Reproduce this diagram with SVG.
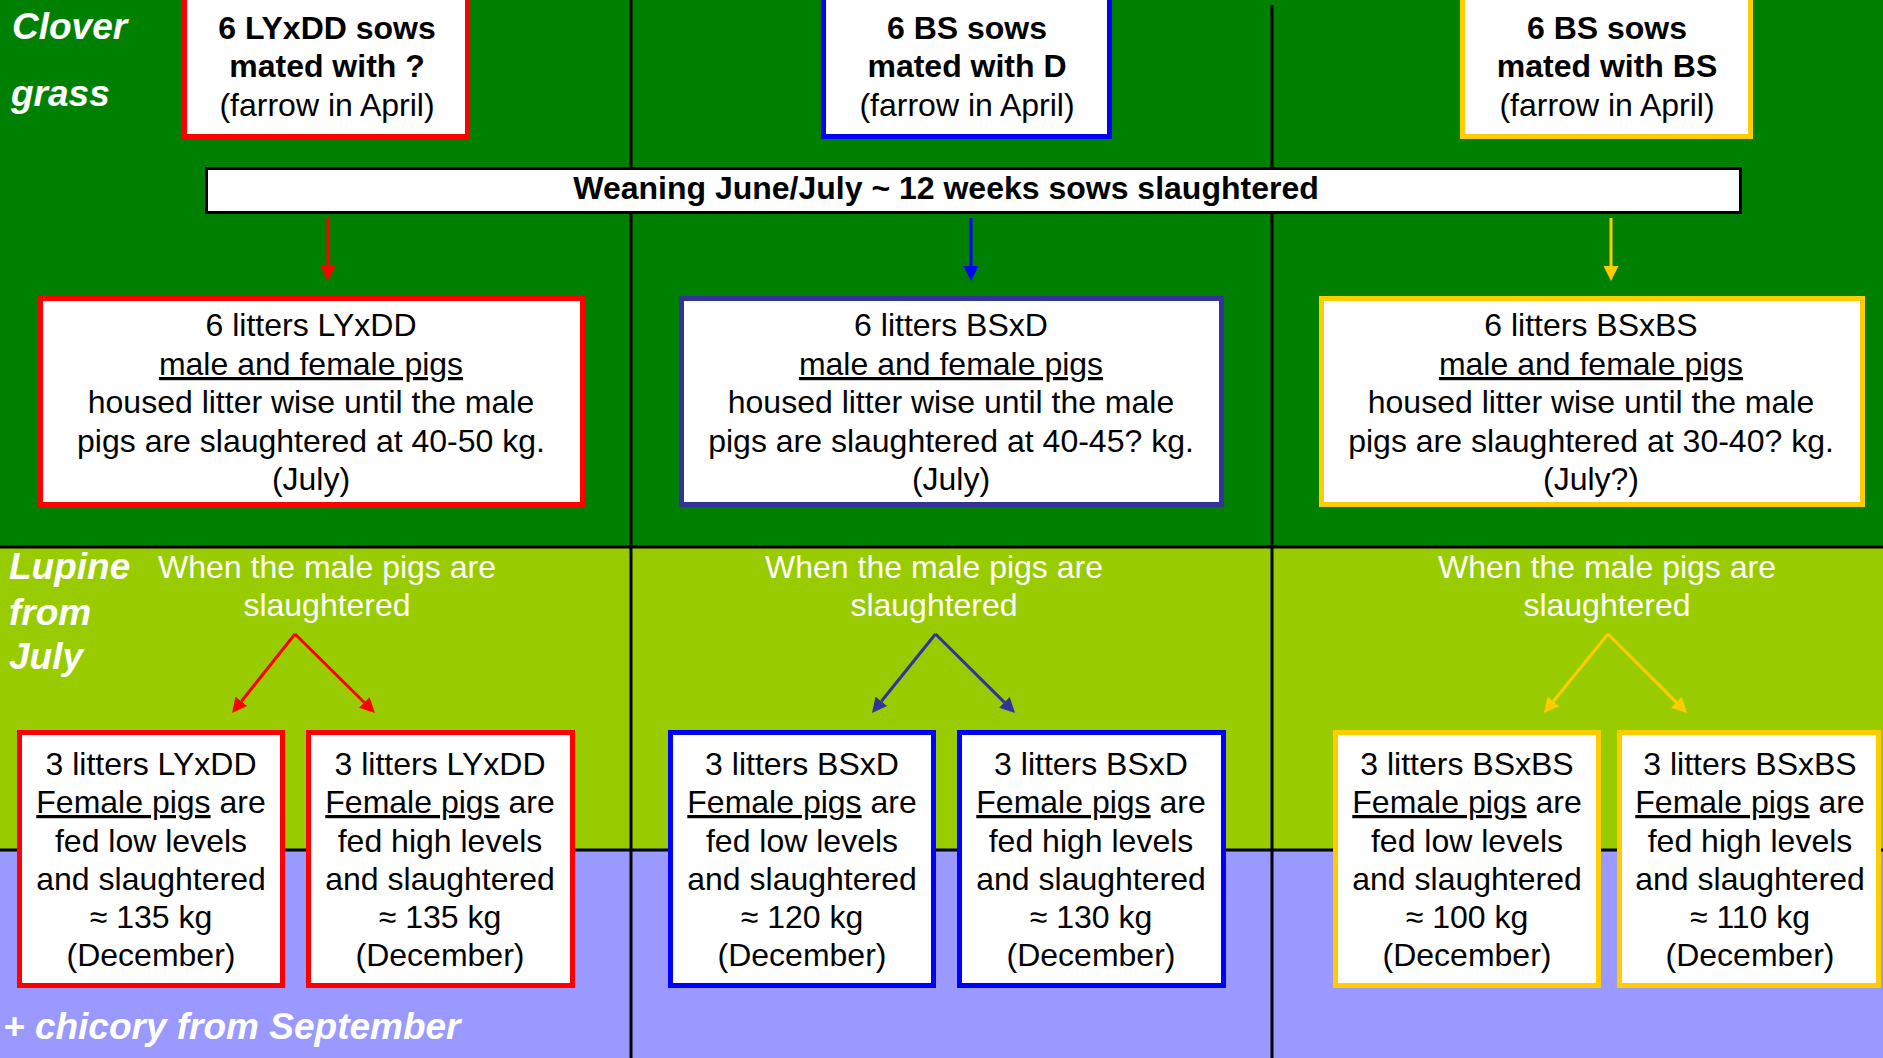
<svg xmlns="http://www.w3.org/2000/svg" width="1883" height="1058" viewBox="0 0 1883 1058">
<style>
.box{fill:#fff;stroke-width:5}
.r{stroke:#FF0000}.b{stroke:#0000FF}.n{stroke:#333399}.y{stroke:#FFCC00}
text{font-family:"Liberation Sans",Arial,sans-serif;font-size:32px;text-anchor:middle;fill:#000}
.bold{font-weight:bold}
.w{fill:#fff}
.lab{font-weight:bold;font-style:italic;font-size:37px;fill:#fff;text-anchor:start}
.u{text-decoration:underline}
.div{stroke:#000;stroke-width:3}
</style>
<defs>
<marker id="ar" markerUnits="userSpaceOnUse" markerWidth="16" markerHeight="16" refX="0" refY="8" orient="auto" viewBox="0 0 16 16"><path d="M0,0.5 L15,8 L0,15.5 z" fill="#FF0000"/></marker>
<marker id="ab" markerUnits="userSpaceOnUse" markerWidth="16" markerHeight="16" refX="0" refY="8" orient="auto" viewBox="0 0 16 16"><path d="M0,0.5 L15,8 L0,15.5 z" fill="#0000FF"/></marker>
<marker id="an" markerUnits="userSpaceOnUse" markerWidth="16" markerHeight="16" refX="0" refY="8" orient="auto" viewBox="0 0 16 16"><path d="M0,0.5 L15,8 L0,15.5 z" fill="#333399"/></marker>
<marker id="ay" markerUnits="userSpaceOnUse" markerWidth="16" markerHeight="16" refX="0" refY="8" orient="auto" viewBox="0 0 16 16"><path d="M0,0.5 L15,8 L0,15.5 z" fill="#FFCC00"/></marker>
</defs>

<g id="background">
<rect x="0" y="0" width="1883" height="548" fill="#008000"/>
<rect x="0" y="548" width="1883" height="302" fill="#99CC00"/>
<rect x="0" y="850" width="1883" height="208" fill="#9999FF"/>
<line class="div" x1="0" y1="547" x2="1883" y2="547"/>
<line class="div" x1="0" y1="850" x2="1883" y2="850"/>
<line class="div" x1="631" y1="0" x2="631" y2="1058"/>
<line class="div" x1="1272" y1="5" x2="1272" y2="1058"/>
</g>

<g id="labels">
<text class="lab" x="12" y="39">Clover</text>
<text class="lab" x="11" y="106">grass</text>
<text class="lab" x="9" y="579">Lupine</text>
<text class="lab" x="9" y="625">from</text>
<text class="lab" x="9" y="669">July</text>
<text class="lab" x="3" y="1039">+ chicory from September</text>
<text class="w" x="327" y="578">When the male pigs are</text>
<text class="w" x="327" y="616">slaughtered</text>
<text class="w" x="934" y="578">When the male pigs are</text>
<text class="w" x="934" y="616">slaughtered</text>
<text class="w" x="1607" y="578">When the male pigs are</text>
<text class="w" x="1607" y="616">slaughtered</text>
</g>

<g id="connectors" fill="none" stroke-width="3">
<line x1="328" y1="218" x2="328" y2="266" stroke="#FF0000" marker-end="url(#ar)"/>
<line x1="971" y1="218" x2="971" y2="266" stroke="#0000FF" marker-end="url(#ab)"/>
<line x1="1611" y1="218" x2="1611" y2="266" stroke="#FFCC00" marker-end="url(#ay)"/>
<line x1="295" y1="634" x2="241.4" y2="701.3" stroke="#FF0000" marker-end="url(#ar)"/>
<line x1="295" y1="634" x2="364.3" y2="702.5" stroke="#FF0000" marker-end="url(#ar)"/>
<line x1="935.5" y1="634" x2="881.4" y2="701.3" stroke="#333399" marker-end="url(#an)"/>
<line x1="935.5" y1="634" x2="1004.4" y2="702.4" stroke="#333399" marker-end="url(#an)"/>
<line x1="1608" y1="634" x2="1553.4" y2="701.3" stroke="#FFCC00" marker-end="url(#ay)"/>
<line x1="1608" y1="634" x2="1676.4" y2="702.4" stroke="#FFCC00" marker-end="url(#ay)"/>
</g>

<g id="sow-lyxdd">
<rect class="box r" x="184.5" y="-10" width="283" height="146.5"/>
<text class="bold" x="327" y="39">6 LYxDD sows</text>
<text class="bold" x="327" y="77">mated with ?</text>
<text x="327" y="116">(farrow in April)</text>
</g>
<g id="sow-bs-d">
<rect class="box b" x="823.5" y="-10" width="286" height="146.5"/>
<text class="bold" x="967" y="39">6 BS sows</text>
<text class="bold" x="967" y="77">mated with D</text>
<text x="967" y="116">(farrow in April)</text>
</g>
<g id="sow-bs-bs">
<rect class="box y" x="1462.5" y="-10" width="288" height="146.5"/>
<text class="bold" x="1607" y="39">6 BS sows</text>
<text class="bold" x="1607" y="77">mated with BS</text>
<text x="1607" y="116">(farrow in April)</text>
</g>

<g id="weaning">
<rect x="206.5" y="168.5" width="1534" height="44" fill="#fff" stroke="#000" stroke-width="3"/>
<text class="bold" x="946" y="199">Weaning June/July ~ 12 weeks sows slaughtered</text>
</g>

<g id="litters-lyxdd">
<rect class="box r" x="40.5" y="298.5" width="542" height="206"/>
<text x="311" y="336">6 litters LYxDD</text>
<text x="311" y="375" class="u">male and female pigs</text>
<text x="311" y="413">housed litter wise until the male</text>
<text x="311" y="452">pigs are slaughtered at 40-50 kg.</text>
<text x="311" y="490">(July)</text>
</g>
<g id="litters-bsxd">
<rect class="box n" x="681.5" y="298.5" width="540" height="206"/>
<text x="951" y="336">6 litters BSxD</text>
<text x="951" y="375" class="u">male and female pigs</text>
<text x="951" y="413">housed litter wise until the male</text>
<text x="951" y="452">pigs are slaughtered at 40-45? kg.</text>
<text x="951" y="490">(July)</text>
</g>
<g id="litters-bsxbs">
<rect class="box y" x="1321.5" y="298.5" width="541" height="206"/>
<text x="1591" y="336">6 litters BSxBS</text>
<text x="1591" y="375" class="u">male and female pigs</text>
<text x="1591" y="413">housed litter wise until the male</text>
<text x="1591" y="452">pigs are slaughtered at 30-40? kg.</text>
<text x="1591" y="490">(July?)</text>
</g>

<g id="lyxdd-low">
<rect class="box r" x="19.5" y="732.5" width="263" height="253"/>
<text x="151" y="775">3 litters LYxDD</text>
<text x="151" y="813"><tspan class="u">Female pigs</tspan> are</text>
<text x="151" y="852">fed low levels</text>
<text x="151" y="890">and slaughtered</text>
<text x="151" y="928">≈ 135 kg</text>
<text x="151" y="966">(December)</text>
</g>
<g id="lyxdd-high">
<rect class="box r" x="308.5" y="732.5" width="264" height="253"/>
<text x="440" y="775">3 litters LYxDD</text>
<text x="440" y="813"><tspan class="u">Female pigs</tspan> are</text>
<text x="440" y="852">fed high levels</text>
<text x="440" y="890">and slaughtered</text>
<text x="440" y="928">≈ 135 kg</text>
<text x="440" y="966">(December)</text>
</g>
<g id="bsxd-low">
<rect class="box b" x="670.5" y="732.5" width="263" height="253"/>
<text x="802" y="775">3 litters BSxD</text>
<text x="802" y="813"><tspan class="u">Female pigs</tspan> are</text>
<text x="802" y="852">fed low levels</text>
<text x="802" y="890">and slaughtered</text>
<text x="802" y="928">≈ 120 kg</text>
<text x="802" y="966">(December)</text>
</g>
<g id="bsxd-high">
<rect class="box b" x="959.5" y="732.5" width="264" height="253"/>
<text x="1091" y="775">3 litters BSxD</text>
<text x="1091" y="813"><tspan class="u">Female pigs</tspan> are</text>
<text x="1091" y="852">fed high levels</text>
<text x="1091" y="890">and slaughtered</text>
<text x="1091" y="928">≈ 130 kg</text>
<text x="1091" y="966">(December)</text>
</g>
<g id="bsxbs-low">
<rect class="box y" x="1335.5" y="732.5" width="263" height="253"/>
<text x="1467" y="775">3 litters BSxBS</text>
<text x="1467" y="813"><tspan class="u">Female pigs</tspan> are</text>
<text x="1467" y="852">fed low levels</text>
<text x="1467" y="890">and slaughtered</text>
<text x="1467" y="928">≈ 100 kg</text>
<text x="1467" y="966">(December)</text>
</g>
<g id="bsxbs-high">
<rect class="box y" x="1619.5" y="732.5" width="259" height="253"/>
<text x="1750" y="775">3 litters BSxBS</text>
<text x="1750" y="813"><tspan class="u">Female pigs</tspan> are</text>
<text x="1750" y="852">fed high levels</text>
<text x="1750" y="890">and slaughtered</text>
<text x="1750" y="928">≈ 110 kg</text>
<text x="1750" y="966">(December)</text>
</g>
</svg>
